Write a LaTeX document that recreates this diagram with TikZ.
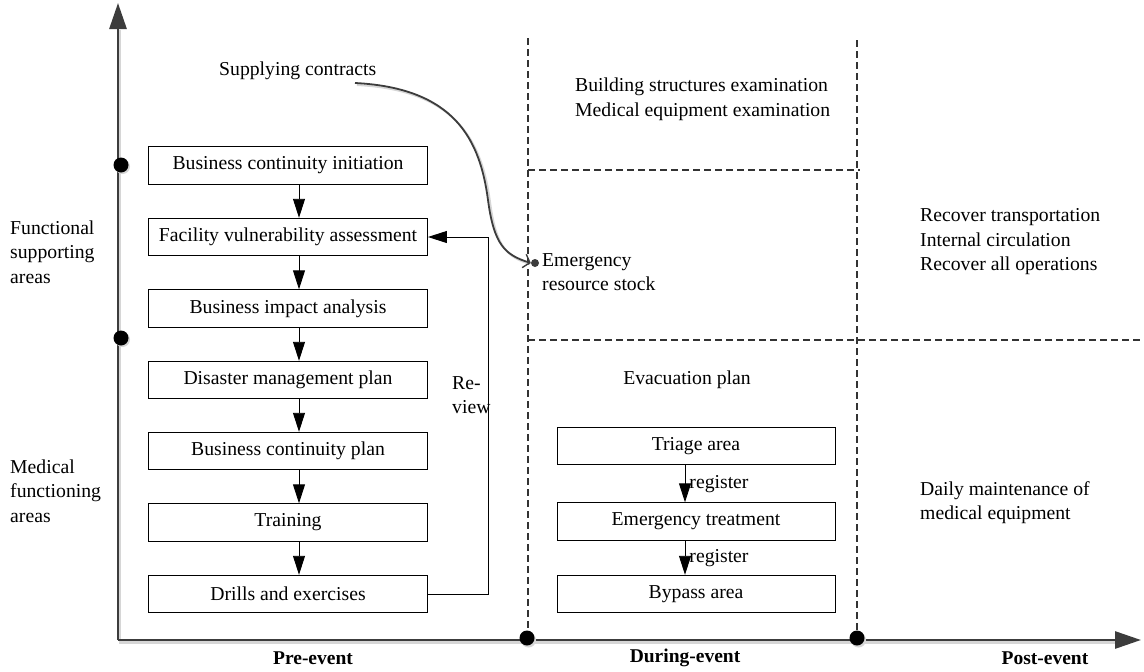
\documentclass[tikz,border=0pt]{standalone}
\usepackage{fontspec}
\setmainfont{Liberation Serif}
\usetikzlibrary{arrows.meta}
\definecolor{axisgray}{HTML}{3C3C3C}
\definecolor{shade}{HTML}{D6D6D6}
\begin{document}
\begin{tikzpicture}[x=1pt,y=-1pt,
  txt/.style={font=\fontsize{19.7}{24.5}\selectfont, inner sep=0pt, align=left},
  stage/.style={draw=black, line width=0.9pt, minimum height=37.5pt, inner sep=0pt,
                font=\fontsize{19.7}{22}\selectfont},
  leftstage/.style={stage, minimum width=279pt},
  rightstage/.style={stage, minimum width=278pt},
  flow/.style={-{Triangle[length=19pt,width=12pt]}, line width=0.9pt},
  axis/.style={draw=axisgray, line width=2.8pt},
  axisshade/.style={draw=shade, line width=2.8pt},
  zone/.style={draw=black!80, line width=1.1pt, dash pattern=on 7pt off 4pt},
  dot/.style={circle, fill=black, inner sep=0pt, minimum size=15pt},
  dotshade/.style={circle, fill=shade, inner sep=0pt, minimum size=15pt},
  phase/.style={font=\bfseries\fontsize{19.5}{22}\selectfont, inner sep=0pt},
]
\useasboundingbox (0,0) rectangle (1144,672);

% axes with a soft drop shadow
\coordinate (O) at (118,640);
\coordinate (ytip) at (118,3);
\coordinate (xtip) at (1141,640);
\draw[axisshade] (120,30) -- (120,642.5) -- (1115,642.5);
\draw[axis, -{Triangle[length=26pt,width=17pt]}] (O) -- (ytip);
\draw[axis, -{Triangle[length=26pt,width=17pt]}] (O) -- (xtip);

% zone boundaries
\draw[zone] (528,38) -- (528,640);
\draw[zone] (857,40) -- (857,640);
\draw[zone] (528,170) -- (860,170);
\draw[zone] (528,340) -- (1144,340);

% markers on the axes
\node[dotshade] at (122.5,166.5) {};
\node[dotshade] at (122.5,339.5) {};
\node[dotshade] at (528.5,640) {};
\node[dotshade] at (858.5,640) {};
\node[dot] (ya) at (121,165) {};
\node[dot] (yb) at (121,338) {};
\node[dot] (xa) at (527,638) {};
\node[dot] (xb) at (857,638) {};

% pre-event process chain
\node[leftstage] (bci) at (288,165.5) {Business continuity initiation};
\node[leftstage] (fva) at (288,237) {Facility vulnerability assessment};
\node[leftstage] (bia) at (288,308.5) {Business impact analysis};
\node[leftstage] (dmp) at (288,380) {Disaster management plan};
\node[leftstage] (bcp) at (288,451) {Business continuity plan};
\node[leftstage] (trn) at (288,522.5) {Training};
\node[leftstage] (drl) at (288,594) {Drills and exercises};

\foreach \a/\b in {bci/fva, fva/bia, bia/dmp, dmp/bcp, bcp/trn, trn/drl}{
  \draw[flow] ([xshift=11pt]\a.south) -- ([xshift=11pt]\b.north);
}
\draw[flow] (drl.east) -- ++(60,0) |- (fva.east);
\node[txt, anchor=west] (review) at (452,395) {Re-\\view};

% during-event evacuation chain
\node[txt, anchor=center] (evac) at (687,380) {Evacuation plan};
\node[rightstage] (tri) at (696,446) {Triage area};
\node[rightstage] (emt) at (696,521.5) {Emergency treatment};
\node[rightstage] (byp) at (696,594) {Bypass area};
\draw[flow] ([xshift=-11pt]tri.south) -- ([xshift=-11pt]emt.north)
  node[midway, anchor=west, txt, xshift=4pt] {register};
\draw[flow] ([xshift=-11pt]emt.south) -- ([xshift=-11pt]byp.north)
  node[midway, anchor=west, txt, xshift=4pt] {register};

% supply contracts feeding the resource stock
\node[txt, anchor=west] (supply) at (219,71) {Supplying contracts};
\coordinate (cs) at (355,83);
\node[circle, fill=axisgray, inner sep=0pt, minimum size=8pt] (stock) at (535,263) {};
\node[txt, anchor=west] (stocklbl) at (542,272) {Emergency\\resource stock};
\draw[draw=shade, line width=2pt]
  (357,85) .. controls (457,90) and (482,142) .. (490,202)
  .. controls (496,247) and (507,257) .. (530,264);
\draw[draw=axisgray, line width=1.8pt, -{Straight Barb[length=6pt,width=14pt,line width=1.4pt]}]
  (cs) .. controls (455,88) and (480,140) .. (488,200)
  .. controls (494,245) and (505,255) .. (stock.west);

% zone notes
\node[txt, anchor=west] (exam) at (575,99.5) {Building structures examination\\Medical equipment examination};
\node[txt, anchor=west] (recov) at (920,242) {Recover transportation\\Internal circulation\\Recover all operations};
\node[txt, anchor=west] (maint) at (920,502.5) {Daily maintenance of\\medical equipment};
\node[txt, anchor=west] (func) at (10,252) {Functional\\supporting\\areas};
\node[txt, anchor=west] (med) at (10,491) {Medical\\functioning\\areas};

% phases along the time axis
\node[phase] (pre) at (313,658) {Pre-event};
\node[phase] (during) at (685,658) {During-event};
\node[phase] (post) at (1045,658) {Post-event};
\end{tikzpicture}
\end{document}
